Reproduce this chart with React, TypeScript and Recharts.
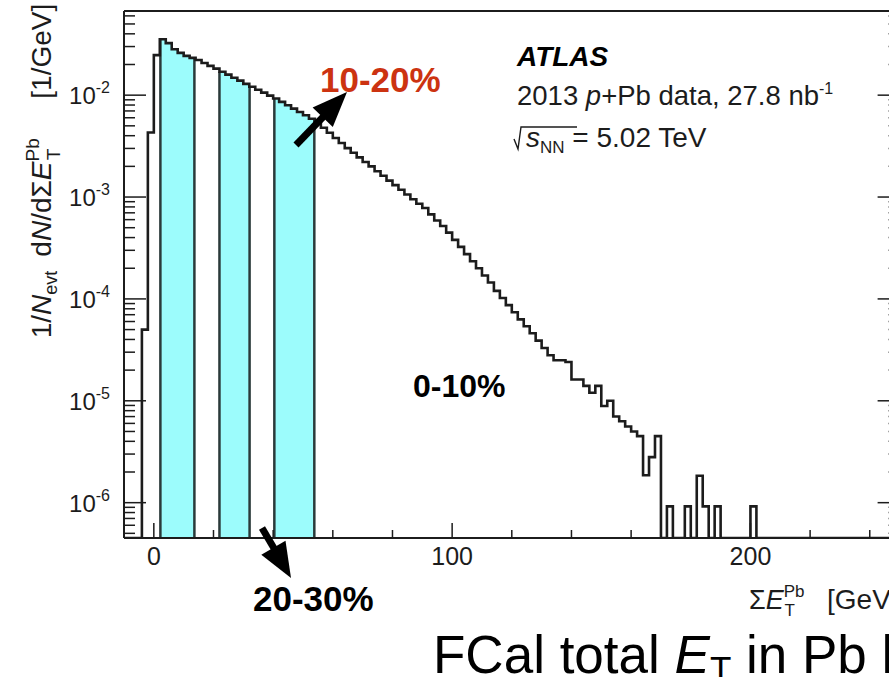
import React from 'react';
import { ComposedChart, Line, Area, XAxis, YAxis, ReferenceLine } from 'recharts';

const FONT = '"Liberation Sans", Arial, Helvetica, sans-serif';
const INK = '#1c1c1c';
const CYAN = '#9cfcfc';
const RED = '#cc3311';

const X_MIN = -10;
const X_MAX = 250;
const Y_MIN = 4.5e-7;
const Y_MAX = 0.067;

// 2 GeV bins, first bin starts at -4 GeV
const BIN_WIDTH = 2;
const FIRST_EDGE = -4;

// 1/Nevt dN/dSumET, bin by bin
const risingBins = [5e-5, 4.3e-3, 0.0247, 0.0354];
const peripheralBins = [0.0324, 0.0282, 0.026, 0.0243, 0.0232, 0.0221, 0.0207, 0.0194, 0.0182];
const midBins = [
  0.017, 0.0159, 0.0148, 0.0139, 0.0129, 0.0121, 0.0113, 0.0106, 0.0099, 0.00927, 0.00859, 0.00796,
  0.00738, 0.00684, 0.00634, 0.00586,
];
const steepBins = [
  0.00537, 0.00479, 0.00427, 0.0038, 0.00339, 0.00302, 0.00272, 0.00245, 0.00221, 0.002, 0.00179,
  0.00162, 0.00145, 0.00131, 0.00118, 0.00106, 0.00095, 0.00086, 0.00078, 0.000676,
];
const falloffBins = [
  0.000589, 0.000519, 0.000447, 0.00038, 0.000324, 0.000275, 0.000234, 0.0002, 0.00017, 0.000145,
  0.00012, 0.000102, 8.7e-5, 7.4e-5, 6.3e-5, 5.4e-5, 4.6e-5, 3.9e-5, 3.3e-5, 2.8e-5,
];
const tailBins = [
  2.5e-5, 2.5e-5, 2.4e-5, 1.62e-5, 1.62e-5, 1.4e-5, 1.2e-5, 1.4e-5, 8.9e-6, 1e-5, 7e-6, 6.3e-6, 5.6e-6,
  5e-6, 4.5e-6, 1.86e-6, 2.8e-6, 4.5e-6,
];
const sparseBins = [0, 9.2e-7, 0, 0, 9.2e-7, 0, 1.84e-6, 9.2e-7, 0, 9.2e-7, 0, 0, 0, 0, 0, 9.2e-7, 0];

// centrality bands shaded in cyan (GeV)
const cyanBands = [
  [2.2, 13.6],
  [22.0, 32.1],
  [40.4, 53.8],
];

const xTicks = [0, 20, 40, 60, 80, 100, 120, 140, 160, 180, 200, 220, 240];
const yTicks: number[] = [];
for (let d = -7; d <= -2; d++) {
  for (let k = 1; k <= 9; k++) {
    const v = Number((k * Math.pow(10, d)).toPrecision(3));
    if (v >= Y_MIN && v <= Y_MAX) yTicks.push(v);
  }
}

const histValues = [
  ...risingBins,
  ...peripheralBins,
  ...midBins,
  ...steepBins,
  ...falloffBins,
  ...tailBins,
  ...sparseBins,
];
const floorVal = (v: number) => (v > 0 ? v : Y_MIN);
const lastEdge = FIRST_EDGE + histValues.length * BIN_WIDTH;

const histPoints = [
  { x: X_MIN, y: Y_MIN },
  ...histValues.map((v, i) => ({ x: FIRST_EDGE + i * BIN_WIDTH, y: floorVal(v) })),
  { x: lastEdge, y: Y_MIN },
  { x: X_MAX, y: Y_MIN },
];

const valueAt = (x: number) => {
  const i = Math.floor((x - FIRST_EDGE) / BIN_WIDTH);
  return floorVal(histValues[i] ?? 0);
};

const bandData = cyanBands.map(([a, b]) => {
  const pts = [{ x: a, y: valueAt(a) }];
  for (let e = Math.ceil(a / BIN_WIDTH) * BIN_WIDTH; e < b; e += BIN_WIDTH) {
    if (e > a) pts.push({ x: e, y: valueAt(e) });
  }
  pts.push({ x: b, y: valueAt(b - 0.001) });
  return pts;
});

const isMajorY = (v: number) => {
  const e = Math.log10(v);
  return Math.abs(e - Math.round(e)) < 1e-6;
};

const YTickLeft = (props: any) => {
  const { x, y, payload } = props;
  const major = isMajorY(payload.value);
  return (
    <g>
      <line x1={x} x2={x + (major ? 22 : 11)} y1={y} y2={y} stroke={INK} strokeWidth={1.5} />
      {major && (
        <text x={x - 14} y={y + 9} textAnchor="end" fontSize={24} fill={INK} fontFamily={FONT}>
          <tspan>10</tspan>
          <tspan dy={-11} fontSize={16}>
            {Math.round(Math.log10(payload.value))}
          </tspan>
        </text>
      )}
    </g>
  );
};

const YTickRight = (props: any) => {
  const { x, y, payload } = props;
  const major = isMajorY(payload.value);
  return <line x1={x} x2={x - (major ? 22 : 11)} y1={y} y2={y} stroke={INK} strokeWidth={1.5} />;
};

const XTickBottom = (props: any) => {
  const { x, y, payload } = props;
  const major = payload.value % 100 === 0;
  return (
    <g>
      <line x1={x} x2={x} y1={y} y2={y - (major ? 15 : 8)} stroke={INK} strokeWidth={1.5} />
      {major && (
        <text x={x} y={y + 27} textAnchor="middle" fontSize={25} fill={INK} fontFamily={FONT}>
          {payload.value}
        </text>
      )}
    </g>
  );
};

const XTickTop = (props: any) => {
  const { x, y, payload } = props;
  const major = payload.value % 100 === 0;
  return <line x1={x} x2={x} y1={y} y2={y + (major ? 15 : 8)} stroke={INK} strokeWidth={1.5} />;
};

const Annotations = () => (
  <svg
    width={889}
    height={677}
    style={{ position: 'absolute', left: 0, top: 0, pointerEvents: 'none' }}
    fontFamily={FONT}
  >
    {/* y axis title */}
    <text transform="translate(51,171) rotate(-90)" textAnchor="middle" fontSize={28} fill={INK}>
      <tspan>1/</tspan>
      <tspan fontStyle="italic">N</tspan>
      <tspan fontSize={18} dy={6}>evt</tspan>
      <tspan dx={14} dy={-6}>d</tspan>
      <tspan fontStyle="italic">N</tspan>
      <tspan>/dΣ</tspan>
      <tspan fontStyle="italic">E</tspan>
      <tspan fontSize={19} dy={-12}>Pb</tspan>
      <tspan fontSize={19} dx={-22} dy={21}>T</tspan>
      <tspan dx={50} dy={-9}>[1/GeV]</tspan>
    </text>

    {/* x axis title */}
    <text x={749} y={609} fontSize={27} fill={INK}>
      <tspan>Σ</tspan>
      <tspan fontStyle="italic">E</tspan>
      <tspan fontSize={17} dy={-12}>Pb</tspan>
      <tspan fontSize={17} dx={-20} dy={19}>T</tspan>
    </text>
    <text x={827} y={609} fontSize={28} fill={INK}>
      [GeV]
    </text>

    {/* ATLAS label */}
    <text x={517} y={66} fontSize={28} fontWeight="bold" fontStyle="italic" fill="#000">
      ATLAS
    </text>
    <text x={517} y={105} fontSize={27.5} fill={INK}>
      <tspan>2013 </tspan>
      <tspan fontStyle="italic">p</tspan>
      <tspan>+Pb data, 27.8 nb</tspan>
      <tspan fontSize={16} dy={-11}>-1</tspan>
    </text>
    <path d="M514,139 L518,149 L521,127 L577,127" fill="none" stroke={INK} strokeWidth={1.4} />
    <text x={526} y={147} fontSize={28} fill={INK}>
      <tspan fontStyle="italic">s</tspan>
      <tspan fontSize={17} dy={6}>NN</tspan>
      <tspan dy={-6}>{' = 5.02 TeV'}</tspan>
    </text>

    {/* centrality labels */}
    <text x={320} y={92} fontSize={35} fontWeight="bold" fill={RED}>
      10-20%
    </text>
    <text x={413} y={397} fontSize={32} fontWeight="bold" fill="#000">
      0-10%
    </text>
    <text x={253} y={611} fontSize={35} fontWeight="bold" fill="#000">
      20-30%
    </text>

    {/* arrows */}
    <line x1={296} y1={145} x2={324} y2={116} stroke="#000" strokeWidth={7} />
    <polygon points="347,92 312.6,107.5 332.8,126.9" fill="#000" />
    <line x1={262} y1={528} x2={275} y2={550} stroke="#000" strokeWidth={7} />
    <polygon points="291,578 285.5,540.7 261.3,554.7" fill="#000" />

    {/* slide caption */}
    <text x={433} y={673} fontSize={53} fill="#000">
      <tspan>FCal total </tspan>
      <tspan fontStyle="italic">E</tspan>
      <tspan fontSize={35} dy={8}>T</tspan>
      <tspan dy={-8}>{' in Pb hemisphere'}</tspan>
    </text>
  </svg>
);

export default function App() {
  return (
    <div
      style={{
        position: 'absolute',
        left: 0,
        top: 0,
        width: 889,
        height: 677,
        overflow: 'hidden',
        background: '#fff',
        fontFamily: FONT,
      }}
    >
      <ComposedChart width={920} height={677} margin={{ top: 10, right: 19.4, bottom: 138, left: 123 }}>
        <XAxis
          xAxisId="b"
          type="number"
          dataKey="x"
          domain={[X_MIN, X_MAX]}
          allowDataOverflow
          ticks={xTicks}
          interval={0}
          tick={<XTickBottom />}
          tickLine={false}
          tickSize={0}
          tickMargin={0}
          height={1}
          axisLine={{ stroke: INK, strokeWidth: 2 }}
        />
        <XAxis
          xAxisId="t"
          orientation="top"
          type="number"
          domain={[X_MIN, X_MAX]}
          allowDataOverflow
          ticks={xTicks}
          interval={0}
          tick={<XTickTop />}
          tickLine={false}
          tickSize={0}
          tickMargin={0}
          height={1}
          axisLine={{ stroke: INK, strokeWidth: 2 }}
        />
        <YAxis
          yAxisId="l"
          type="number"
          scale="log"
          domain={[Y_MIN, Y_MAX]}
          allowDataOverflow
          ticks={yTicks}
          interval={0}
          tick={<YTickLeft />}
          tickLine={false}
          tickSize={0}
          tickMargin={0}
          width={1}
          axisLine={{ stroke: INK, strokeWidth: 2 }}
        />
        <YAxis
          yAxisId="r"
          orientation="right"
          type="number"
          scale="log"
          domain={[Y_MIN, Y_MAX]}
          allowDataOverflow
          ticks={yTicks}
          interval={0}
          tick={<YTickRight />}
          tickLine={false}
          tickSize={0}
          tickMargin={0}
          width={1}
          axisLine={{ stroke: INK, strokeWidth: 2 }}
        />
        {bandData.map((pts, i) => (
          <Area
            key={`band-${i}`}
            xAxisId="b"
            yAxisId="l"
            data={pts}
            dataKey="y"
            type="stepAfter"
            baseValue={Y_MIN}
            stroke="none"
            fill={CYAN}
            fillOpacity={1}
            isAnimationActive={false}
          />
        ))}
        {cyanBands.flat().map((edge, i) => (
          <ReferenceLine
            key={`edge-${i}`}
            xAxisId="b"
            yAxisId="l"
            segment={[
              { x: edge, y: Y_MIN },
              { x: edge, y: valueAt(i % 2 === 0 ? edge : edge - 0.001) },
            ]}
            stroke="#2a3a3a"
            strokeWidth={2.5}
          />
        ))}
        <Line
          xAxisId="b"
          yAxisId="l"
          data={histPoints}
          dataKey="y"
          type="stepAfter"
          stroke={INK}
          strokeWidth={2.6}
          dot={false}
          isAnimationActive={false}
        />
      </ComposedChart>
      <Annotations />
    </div>
  );
}
